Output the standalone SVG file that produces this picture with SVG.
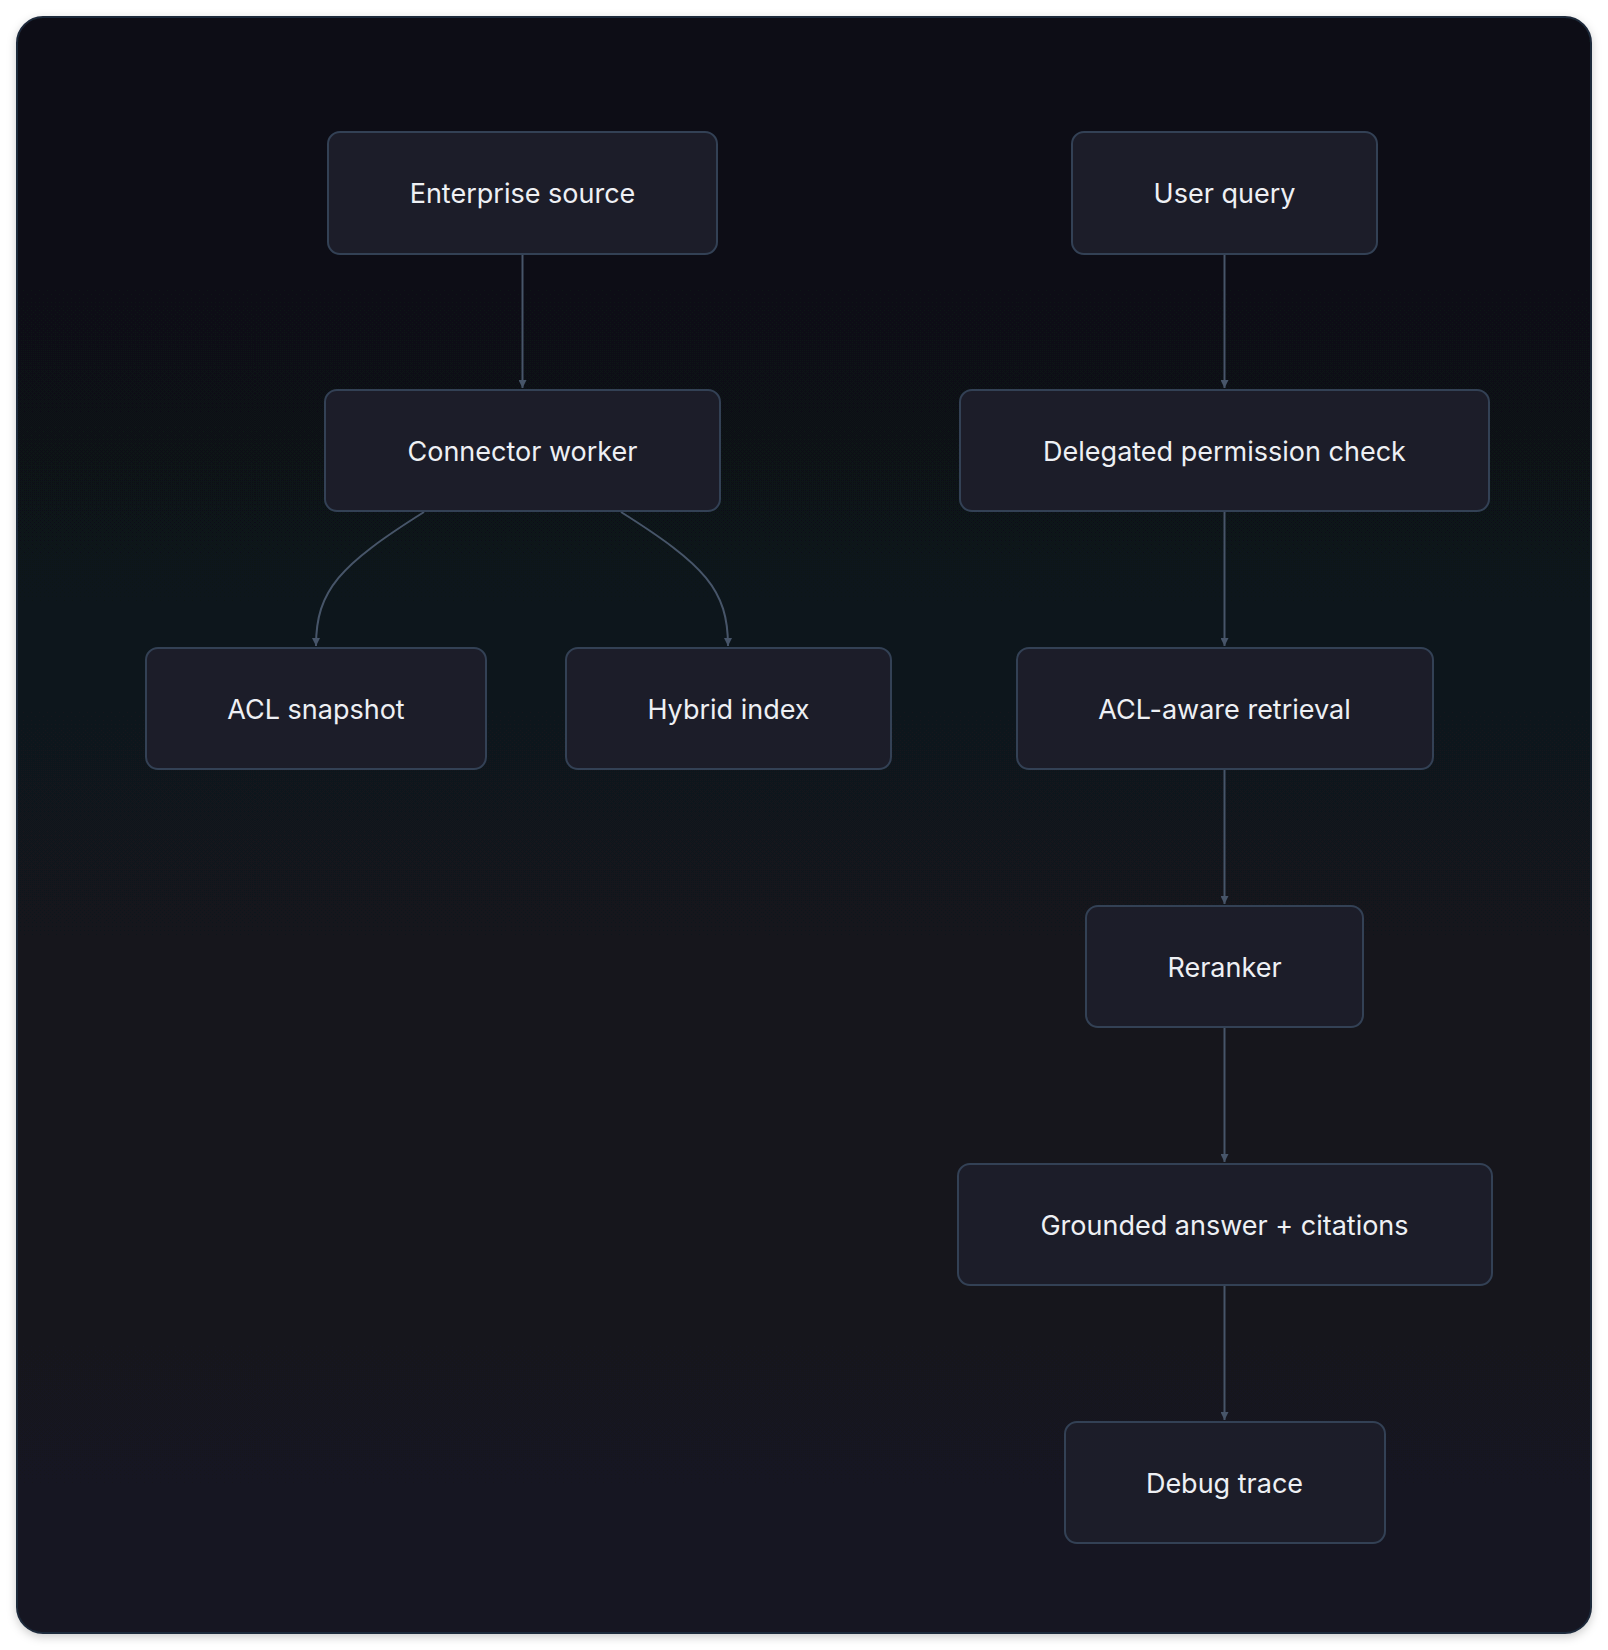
<svg xmlns="http://www.w3.org/2000/svg" width="1608" height="1650" viewBox="0 0 1608 1650">
<defs>
<style>
.n rect{fill:#1c1d29;stroke:#334155;stroke-width:2}
.n text{fill:#eef0f4;font-family:Inter,"Noto Sans",sans-serif;font-size:27px;text-anchor:middle;dominant-baseline:central}
.e path{fill:none;stroke:#475569;stroke-width:2;marker-end:url(#a)}
</style>
<marker id="a" viewBox="0 0 10 10" refX="10" refY="5" markerWidth="8" markerHeight="8" markerUnits="userSpaceOnUse" orient="auto"><path d="M0,0L10,5L0,10z" fill="#475569"/></marker>
<filter id="s" x="-5%" y="-5%" width="110%" height="110%"><feDropShadow dx="0" dy="3" stdDeviation="5" flood-color="#000" flood-opacity="0.2"/></filter>
<linearGradient id="g" x1="0" y1="0" x2="0" y2="1"><stop offset="0" stop-color="#0e1016"/><stop offset="1" stop-color="#151621"/></linearGradient>
</defs>
<rect width="1608" height="1650" fill="#ffffff"/>
<rect x="17" y="17" width="1574" height="1616" rx="26" fill="url(#g)" stroke="#1e293b" stroke-width="2" filter="url(#s)"/>
<g class="e">
<path d="M522.5,254V388"/>
<path d="M424,512C340,565 316,590 316,646"/>
<path d="M621,512C705,565 728,590 728,646"/>
<path d="M1224.5,254V388"/>
<path d="M1224.5,511V646"/>
<path d="M1224.5,769V904"/>
<path d="M1224.5,1027V1162"/>
<path d="M1224.5,1285V1420"/>
</g>
<g id="n1" class="n"><rect x="328" y="132" width="389" height="122" rx="12"/><text x="522.5" y="193">Enterprise source</text></g>
<g id="n2" class="n"><rect x="325" y="390" width="395" height="121" rx="12"/><text x="522.5" y="451">Connector worker</text></g>
<g id="n3" class="n"><rect x="146" y="648" width="340" height="121" rx="12"/><text x="316" y="709">ACL snapshot</text></g>
<g id="n4" class="n"><rect x="566" y="648" width="325" height="121" rx="12"/><text x="728.5" y="709">Hybrid index</text></g>
<g id="n5" class="n"><rect x="1072" y="132" width="305" height="122" rx="12"/><text x="1224.5" y="193">User query</text></g>
<g id="n6" class="n"><rect x="960" y="390" width="529" height="121" rx="12"/><text x="1224.5" y="451">Delegated permission check</text></g>
<g id="n7" class="n"><rect x="1017" y="648" width="416" height="121" rx="12"/><text x="1224.5" y="709">ACL-aware retrieval</text></g>
<g id="n8" class="n"><rect x="1086" y="906" width="277" height="121" rx="12"/><text x="1224.5" y="967">Reranker</text></g>
<g id="n9" class="n"><rect x="958" y="1164" width="534" height="121" rx="12"/><text x="1224.5" y="1225">Grounded answer + citations</text></g>
<g id="n10" class="n"><rect x="1065" y="1422" width="320" height="121" rx="12"/><text x="1224.5" y="1483">Debug trace</text></g>
</svg>
